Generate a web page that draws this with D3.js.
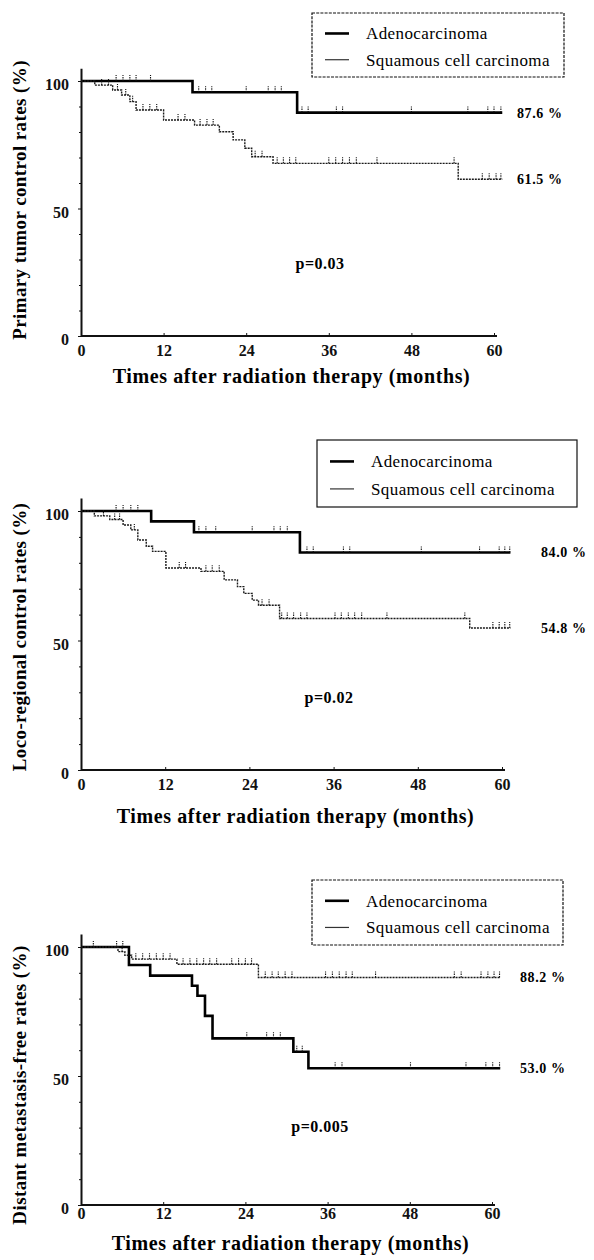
<!DOCTYPE html>
<html>
<head>
<meta charset="utf-8">
<script src="https://cdn.jsdelivr.net/npm/d3@7"></script>
<style>
  body { margin: 0; background: #fff; }
  svg { display: block; font-family: "Liberation Serif", "Times New Roman", serif; }
  .axis path, .axis line { stroke: #111; }
  .axis text { font-family: "Liberation Serif", serif; font-size: 16px; font-weight: bold; fill: #111; }
</style>
</head>
<body>
<svg></svg>
<script>
// values (months, %)
let xTicks = [0, 12, 24, 36, 48, 60];
let yTicks = [0, 50, 100];
let yMinor = [10, 20, 30, 40, 60, 70, 80, 90];
let seriesNames = ['Adenocarcinoma', 'Squamous cell carcinoma'];
let yTitles = ['Primary tumor control rates  (%)', 'Loco-regional control rates  (%)', 'Distant metastasis-free rates  (%)'];
let xTitle = 'Times after radiation therapy (months)';
let pValues = ['p=0.03', 'p=0.02', 'p=0.005'];
let followUpEnd = 61.2;

// panel 1: primary tumor control
let ptcAdenoTime = [0, 16.2, 31.4];
let ptcAdenoRate = [100, 95.6, 87.6];
let ptcAdenoCensor = [5.1, 6.1, 7.1, 8.0, 10.1, 17.1, 18.1, 19.0, 24.0, 27.2, 28.2, 29.1, 32.1, 33.0, 37.1, 38.0, 48.0, 56.2, 59.1, 60.0, 61.0];
let ptcSquamTime = [0, 2.0, 4.6, 5.9, 7.1, 8.0, 12.0, 16.5, 20.1, 22.1, 23.8, 24.8, 27.9, 54.8];
let ptcSquamRate = [100, 98.4, 96.5, 94.5, 91.9, 88.6, 84.7, 82.7, 80.1, 76.9, 73.6, 70.3, 67.7, 61.5];
let ptcSquamCensor = [3.0, 4.0, 5.3, 6.5, 7.5, 9.0, 10.0, 11.0, 14.1, 15.1, 17.3, 18.3, 19.2, 25.3, 26.3, 28.5, 29.4, 30.3, 31.2, 36.0, 37.0, 38.0, 39.0, 40.0, 43.0, 54.2, 58.3, 59.3, 60.3, 61.0];

// panel 2: loco-regional control
let lrcAdenoTime = [0, 10.0, 16.1, 31.2];
let lrcAdenoRate = [100, 96.0, 91.8, 84.0];
let lrcAdenoCensor = [5.0, 6.0, 7.1, 8.1, 16.8, 17.8, 19.2, 24.4, 27.5, 28.4, 29.4, 32.2, 33.1, 37.4, 38.3, 48.5, 56.8, 59.6, 60.4, 61.1];
let lrcSquamTime = [0, 1.9, 4.1, 6.0, 7.1, 8.1, 9.3, 10.2, 12.1, 17.1, 20.4, 22.3, 23.2, 24.4, 25.3, 28.3, 55.4];
let lrcSquamRate = [100, 98.1, 96.7, 94.6, 92.7, 88.8, 86.4, 84.4, 78.0, 76.7, 73.4, 70.8, 68.2, 65.6, 63.6, 58.5, 54.8];
let lrcSquamCensor = [3.2, 4.8, 5.5, 7.6, 14.0, 14.9, 17.8, 18.7, 19.7, 25.8, 26.8, 28.6, 29.4, 30.3, 31.3, 32.2, 36.2, 37.1, 38.1, 39.0, 40.0, 43.6, 54.7, 58.7, 59.6, 60.4, 61.1];

// panel 3: distant metastasis-free
let dmfAdenoTime = [0, 7.0, 10.1, 16.2, 17.0, 18.1, 19.2, 31.0, 33.2];
let dmfAdenoRate = [100, 93.0, 88.9, 85.0, 81.1, 73.3, 64.6, 59.4, 53.0];
let dmfAdenoCensor = [1.8, 5.2, 6.1, 24.2, 27.1, 28.1, 29.1, 31.5, 32.3, 37.1, 38.1, 48.1, 56.2, 59.1, 60.1, 61.1];
let dmfSquamTime = [0, 5.4, 6.4, 7.4, 14.0, 25.9];
let dmfSquamRate = [100, 98.2, 96.8, 95.3, 93.3, 88.2];
let dmfSquamCensor = [6.0, 8.0, 9.0, 10.0, 11.0, 12.0, 13.0, 14.9, 15.9, 16.9, 17.9, 18.8, 19.8, 22.0, 23.0, 24.0, 24.9, 26.9, 27.9, 28.8, 29.8, 30.8, 35.7, 36.7, 37.7, 38.7, 39.6, 43.0, 54.5, 55.5, 58.4, 59.4, 60.3, 61.1];

// configuration of svg/panels
let config = {
  'svg': { 'width': 594, 'height': 1260 },
  'panels': [
    { 'left': 81, 'right': 494, 'top': 81, 'bottom': 336, 'tickPad': 9,
      'legend': { 'x': 312, 'y': 13, 'w': 252, 'h': 64, 'dashed': true },
      'p': { 'x': 320, 'y': 263 }, 'yTitleY': 200, 'titleY': 376, 'pctX': 517 },
    { 'left': 81, 'right': 502, 'top': 511, 'bottom': 770, 'tickPad': 9,
      'legend': { 'x': 317, 'y': 440, 'w': 260, 'h': 67, 'dashed': false },
      'p': { 'x': 329, 'y': 697 }, 'yTitleY': 637, 'titleY': 816, 'pctX': 541 },
    { 'left': 81, 'right': 492, 'top': 947, 'bottom': 1205, 'tickPad': 3,
      'legend': { 'x': 312, 'y': 880, 'w': 251, 'h': 65, 'dashed': true },
      'p': { 'x': 320, 'y': 1126 }, 'yTitleY': 1085, 'titleY': 1243, 'pctX': 520 }
  ]
};

let curves = [
  [ { time: ptcAdenoTime, rate: ptcAdenoRate, censor: ptcAdenoCensor }, { time: ptcSquamTime, rate: ptcSquamRate, censor: ptcSquamCensor } ],
  [ { time: lrcAdenoTime, rate: lrcAdenoRate, censor: lrcAdenoCensor }, { time: lrcSquamTime, rate: lrcSquamRate, censor: lrcSquamCensor } ],
  [ { time: dmfAdenoTime, rate: dmfAdenoRate, censor: dmfAdenoCensor }, { time: dmfSquamTime, rate: dmfSquamRate, censor: dmfSquamCensor } ]
];

// line styles: adeno thick solid, squamous thin dotted
let style = [
  { 'width': 2.6, 'dash': null, 'color': '#000' },
  { 'width': 1.4, 'dash': '2,1', 'color': '#1a1a1a' }
];

let svg = d3.select('svg');
svg.attr('width', config.svg.width);
svg.attr('height', config.svg.height);

let pct = d3.format('.1f');

config.panels.forEach(function(cfg, i) {
  drawPanel(cfg, curves[i], yTitles[i], pValues[i]);
});

function drawPanel(cfg, series, yTitle, pValue) {
  let g = svg.append('g');

  let x = d3.scaleLinear().domain([0, 60]).range([cfg.left, cfg.right]);
  let y = d3.scaleLinear().domain([0, 100]).range([cfg.bottom, cfg.top]);

  // y axis runs a little past 100
  let yAxisScale = y.copy().domain([0, 105]).range([cfg.bottom, y(105)]);

  let gy = g.append('g').attr('class', 'axis');
  gy.attr('transform', translate(cfg.left, 0));
  gy.call(d3.axisLeft(yAxisScale).tickValues(yTicks).tickSizeInner(3).tickSizeOuter(0).tickPadding(9));
  gy.select('.domain').attr('stroke-width', 2);
  gy.selectAll('text').attr('dy', '0.55em');

  let gym = g.append('g').attr('class', 'axis');
  gym.attr('transform', translate(cfg.left, 0));
  gym.call(d3.axisLeft(yAxisScale).tickValues(yMinor).tickSize(2).tickFormat(''));
  gym.select('.domain').remove();

  let gx = g.append('g').attr('class', 'axis');
  gx.attr('transform', translate(0, cfg.bottom));
  gx.call(d3.axisBottom(x).tickValues(xTicks).tickSizeInner(-3).tickSizeOuter(0).tickPadding(cfg.tickPad));
  gx.select('.domain').attr('stroke-width', 2).attr('d', 'M' + cfg.left + ',0H' + (cfg.right + 3));

  // survival step curves
  let line = d3.line()
    .x(d => x(d[0]))
    .y(d => y(d[1]))
    .curve(d3.curveStepAfter);

  series.forEach(function(s, k) {
    let pts = s.time.map((t, j) => [t, s.rate[j]]);
    pts.push([followUpEnd, s.rate[s.rate.length - 1]]);

    g.append('path')
      .datum(pts)
      .attr('d', line)
      .attr('fill', 'none')
      .attr('stroke', style[k].color)
      .attr('stroke-width', style[k].width)
      .attr('stroke-dasharray', style[k].dash);

    // censor marks sit on the curve level at that time
    let levelAt = t => s.rate[d3.bisectRight(s.time, t) - 1];
    g.selectAll(null)
      .data(s.censor)
      .enter()
      .append('line')
      .attr('x1', d => x(d))
      .attr('x2', d => x(d))
      .attr('y1', d => y(levelAt(d)))
      .attr('y2', d => y(levelAt(d)) - 6)
      .attr('stroke', '#111')
      .attr('stroke-width', 1.1)
      .attr('stroke-dasharray', '1.5,1');

    // final rate labels
    g.append('text')
      .attr('x', cfg.pctX)
      .attr('y', y(s.rate[s.rate.length - 1]))
      .attr('dy', '0.35em')
      .style('font-size', '14px')
      .style('font-weight', 'bold')
      .style('letter-spacing', '0.6px')
      .text(pct(s.rate[s.rate.length - 1]) + ' %');
  });

  // legend box
  let lg = g.append('g').attr('transform', translate(cfg.legend.x, cfg.legend.y));
  lg.append('rect')
    .attr('width', cfg.legend.w)
    .attr('height', cfg.legend.h)
    .attr('fill', 'none')
    .attr('stroke', '#111')
    .attr('stroke-width', 1.2)
    .attr('stroke-dasharray', cfg.legend.dashed ? '3,1.2' : null);

  seriesNames.forEach(function(name, k) {
    let ry = cfg.legend.h * (k === 0 ? 0.32 : 0.73);
    lg.append('line')
      .attr('x1', 13).attr('x2', 37)
      .attr('y1', ry).attr('y2', ry)
      .attr('stroke', k === 0 ? '#000' : '#333')
      .attr('stroke-width', k === 0 ? 2.6 : 1.2);
    lg.append('text')
      .attr('x', 54)
      .attr('y', ry)
      .attr('dy', '0.35em')
      .style('font-size', '17px')
      .style('letter-spacing', '0.4px')
      .text(name);
  });

  // p value
  g.append('text')
    .attr('x', cfg.p.x)
    .attr('y', cfg.p.y)
    .attr('dy', '0.35em')
    .attr('text-anchor', 'middle')
    .style('font-size', '16px')
    .style('font-weight', 'bold')
    .style('letter-spacing', '0.5px')
    .text(pValue);

  // axis titles
  g.append('text')
    .attr('transform', translate(19, cfg.yTitleY) + ' rotate(-90)')
    .attr('text-anchor', 'middle')
    .attr('dy', '0.35em')
    .style('font-size', '19px')
    .style('font-weight', 'bold')
    .style('letter-spacing', '0.4px')
    .text(yTitle);

  g.append('text')
    .attr('x', (cfg.left + cfg.right) / 2 + 4)
    .attr('y', cfg.titleY)
    .attr('dy', '0.35em')
    .attr('text-anchor', 'middle')
    .style('font-size', '20px')
    .style('font-weight', 'bold')
    .style('letter-spacing', '0.6px')
    .text(xTitle);
}

// helper method to make translating easier
function translate(x, y) {
  return 'translate(' + x + ',' + y + ')';
}
</script>
</body>
</html>
